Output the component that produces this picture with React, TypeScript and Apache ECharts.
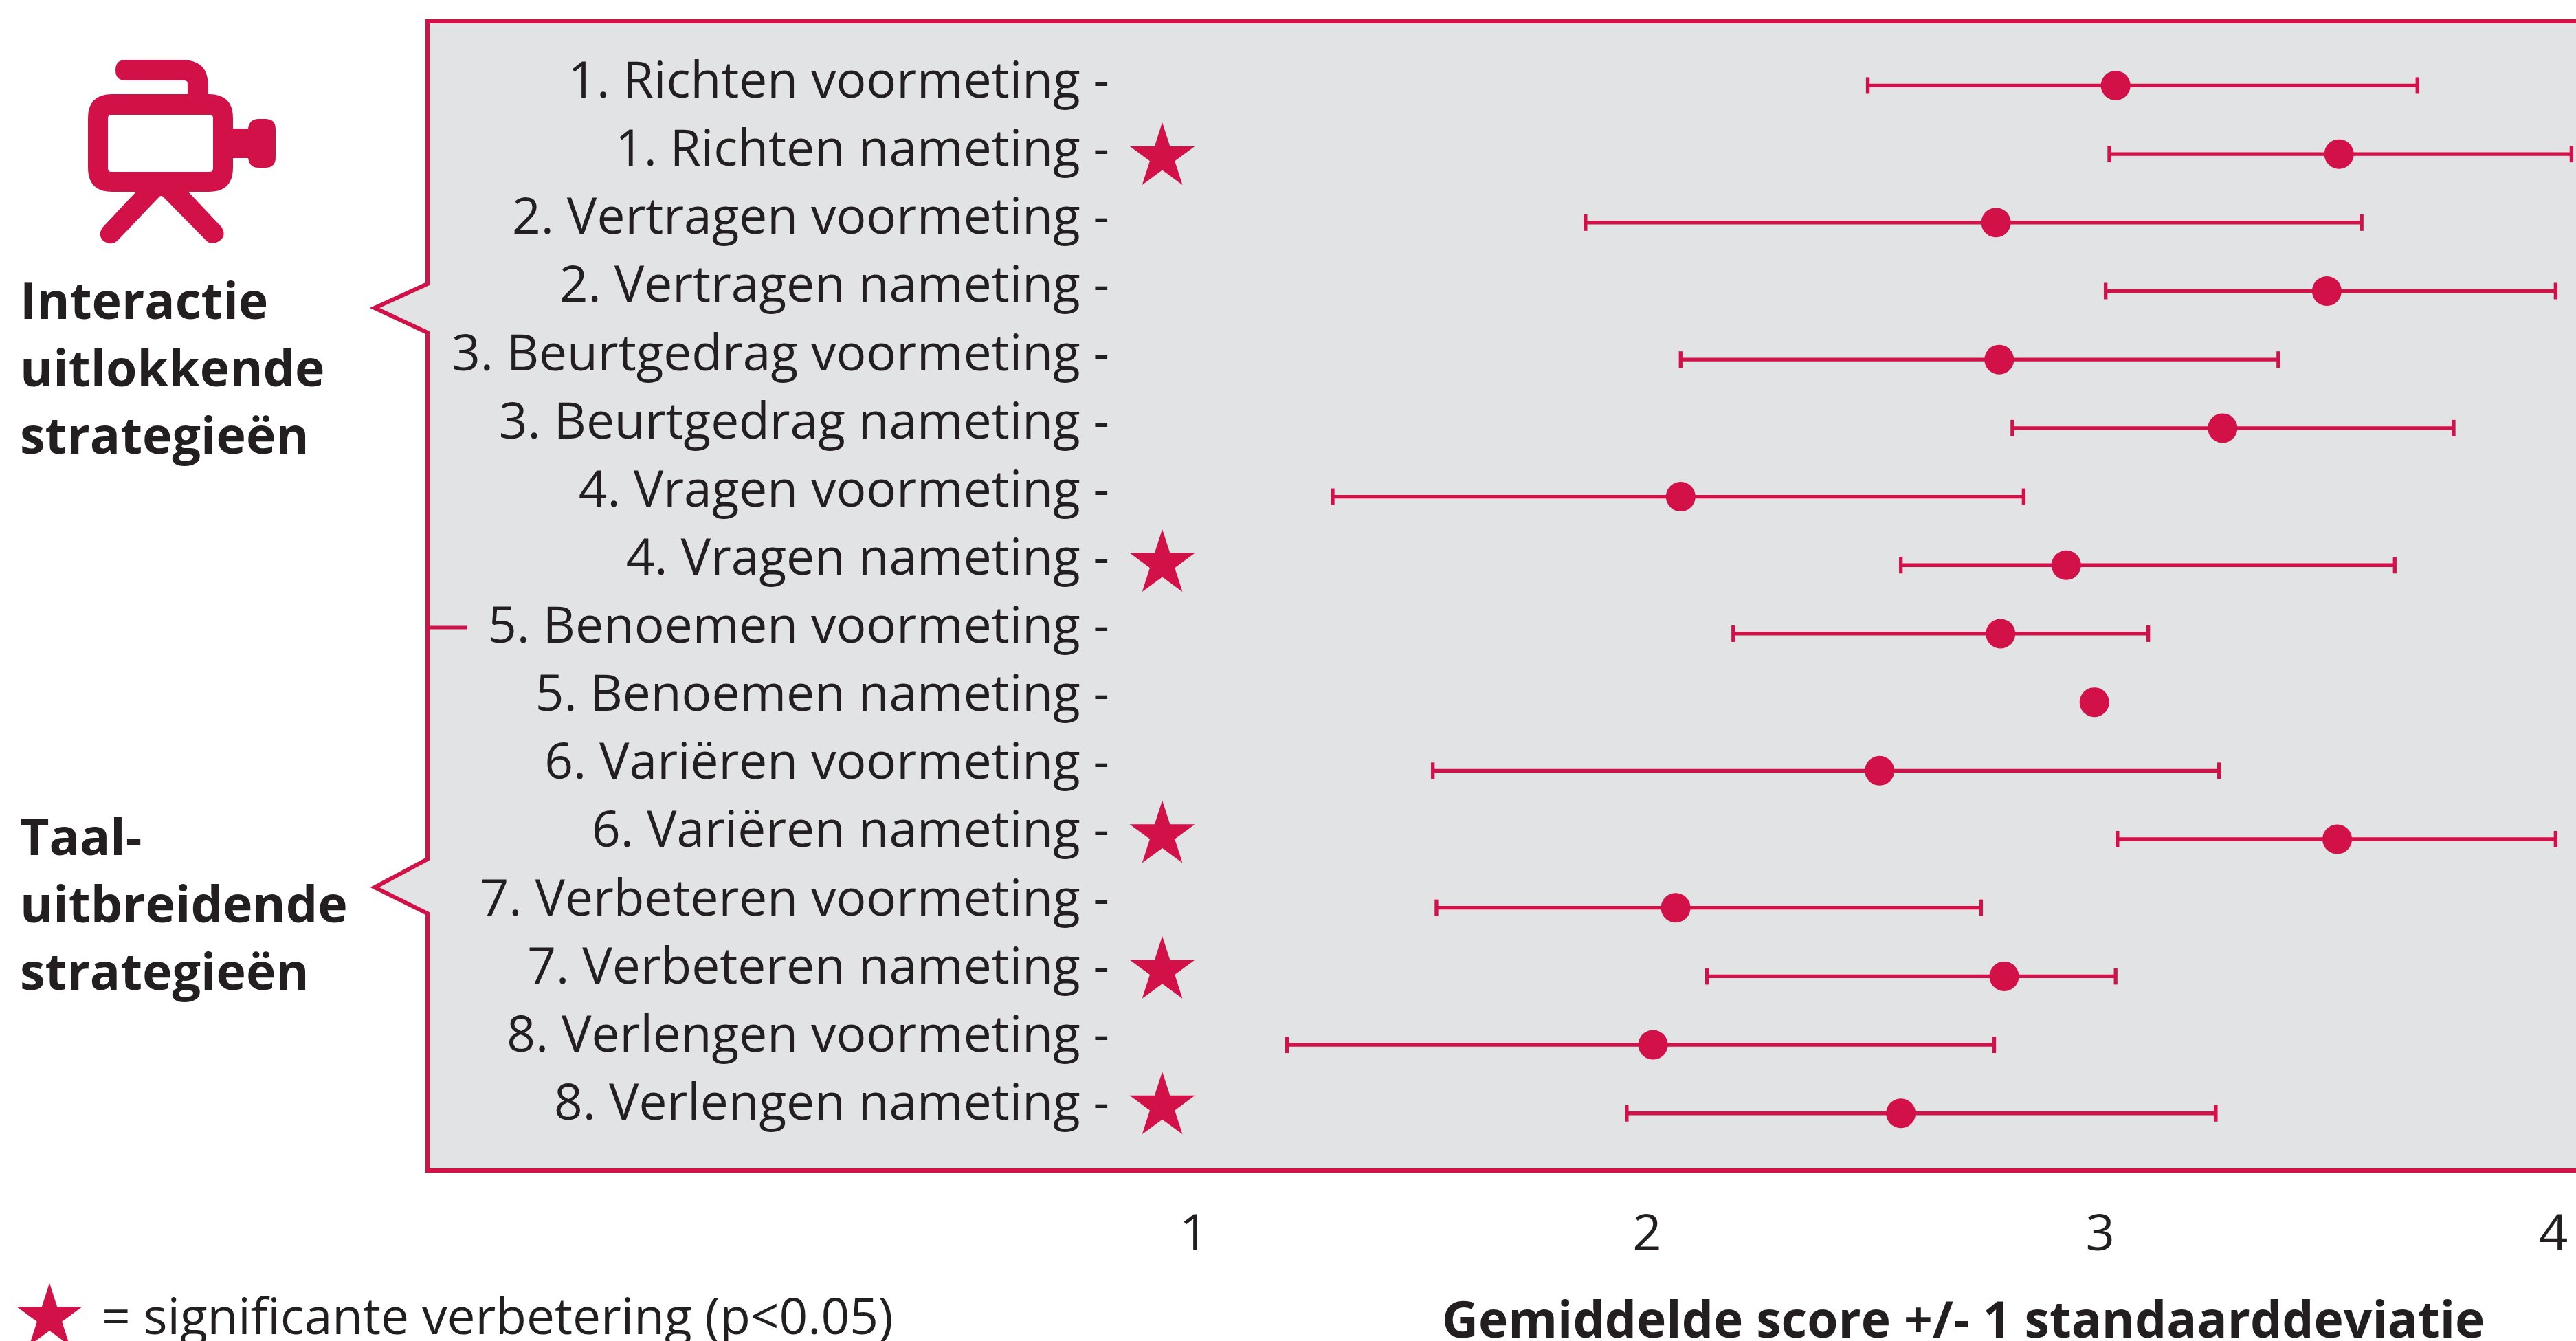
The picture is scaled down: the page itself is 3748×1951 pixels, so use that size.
import React, { useEffect, useRef } from "react";
import * as echarts from "echarts";

const categories = [
  "1. Richten voormeting -", "1. Richten nameting -",
  "2. Vertragen voormeting -", "2. Vertragen nameting -",
  "3. Beurtgedrag voormeting -", "3. Beurtgedrag nameting -",
  "4. Vragen voormeting -", "4. Vragen nameting -",
  "5. Benoemen voormeting -", "5. Benoemen nameting -",
  "6. Variëren voormeting -", "6. Variëren nameting -",
  "7. Verbeteren voormeting -", "7. Verbeteren nameting -",
  "8. Verlengen voormeting -", "8. Verlengen nameting -",
];
const lows = [2.487, 3.02, 1.864, 3.012, 2.074, 2.806, 1.306, 2.56, 2.19, null, 1.527, 3.038, 1.535, 2.132, 1.205, 1.955];
const means = [3.034, 3.527, 2.77, 3.5, 2.777, 3.27, 2.074, 2.925, 2.78, 2.987, 2.513, 3.523, 2.063, 2.788, 2.013, 2.56];
const highs = [3.7, 4.04, 3.577, 4.005, 3.393, 3.78, 2.831, 3.65, 3.106, null, 3.262, 4.005, 2.737, 3.034, 2.766, 3.255];
const significantRows = [1, 7, 11, 13, 15];
const xTicks = [1, 2, 3, 4];
const starAxisValue = 0.93;

const PINK = "#D31149";
const INK = "#231F20";
const GREY = "#E1E3E5";
const FONT = "'Open Sans'";
const STAR = "path://M50 0L61.2 34.5H97.6L68.2 55.9L79.4 90.5L50 69.1L20.6 90.5L31.8 55.9L2.4 34.5H38.8Z";

const CAMERA =
  "M183 87H265Q303 87 303 125V137H273V122Q273 117 268 117H183Q168 117 168 102Q168 87 183 87Z" +
  "M163 137H304Q339 137 339 172V187H361Q363 173 376 173H386Q401 173 401 188V229Q401 244 386 244H376Q363 244 361 230H339V244Q339 279 304 279H274" +
  "L322 330Q330 342 320 350Q307 359 298 348L237 286Q234 284 232 286L173 348Q163 359 151 351Q141 342 150 330L198 279H163Q128 279 128 244V172Q128 137 163 137Z" +
  "M162 167Q157 167 157 172V245Q157 250 162 250H305Q310 250 310 245V172Q310 167 305 167Z";

function starPoints(cx: number, cy: number, w: number, h: number) {
  const raw = [[50, 0], [61.2, 34.5], [97.6, 34.5], [68.2, 55.9], [79.4, 90.5], [50, 69.1], [20.6, 90.5], [31.8, 55.9], [2.4, 34.5], [38.8, 34.5]];
  return raw.map(([x, y]) => [cx + ((x - 50) / 95.2) * w, cy + ((y - 45.25) / 90.5) * h]);
}

export default function App() {
  const ref = useRef<HTMLDivElement>(null);
  useEffect(() => {
    document.body.style.margin = "0";
    document.body.style.overflow = "hidden";
    echarts.graphic.registerShape("camera", echarts.graphic.extendPath(CAMERA, {}) as any);
    const chart = echarts.init(ref.current!, null, { renderer: "svg" });

    const unit = 660;
    const x0 = 1078;
    const whiskers = categories
      .map((_, i) => [lows[i], i, highs[i]])
      .filter((d) => d[0] !== null);
    const bold = (text: string, x: number, y: number) => ({
      type: "text", x, y, z: 5,
      style: { text, fontFamily: FONT, fontWeight: 700, fontSize: 73.5, lineHeight: 98, fill: INK, textAlign: "left", textVerticalAlign: "middle" },
    });

    chart.setOption({
      animation: false,
      backgroundColor: "#fff",
      grid: [
        { left: x0, top: 74.6, width: unit * 4.05, height: 1595 },
        { left: 1628, top: 64, width: 50, height: 1586 },
        { left: x0, top: 75.5, width: unit * 4.05, height: 1578.5 },
      ],
      xAxis: [
        {
          type: "value", gridIndex: 0, min: 0, max: 4.05,
          axisLine: { show: false }, axisTick: { show: false }, splitLine: { show: false },
          axisLabel: { customValues: xTicks, margin: 84, fontFamily: FONT, fontSize: 74, color: INK, showMinLabel: true, showMaxLabel: true },
        },
        { type: "value", gridIndex: 1, show: false, min: 0, max: 1 },
        { type: "value", gridIndex: 2, show: false, min: 0, max: 4.05 },
      ],
      yAxis: [
        { type: "category", gridIndex: 0, inverse: true, data: categories, show: false },
        {
          type: "category", gridIndex: 1, inverse: true, data: categories,
          axisLine: { show: false }, axisTick: { show: false }, splitLine: { show: false },
          axisLabel: { interval: 0, margin: 14, fontFamily: FONT, fontSize: 73, color: INK, align: "right" },
        },
        { type: "category", gridIndex: 2, inverse: true, data: categories, show: false },
      ],
      graphic: [
        {
          type: "polygon", z: 0, silent: true,
          shape: { points: [[622, 31], [3760, 31], [3760, 1703], [622, 1703], [622, 1329], [545, 1291], [622, 1250], [622, 484], [545, 448], [622, 413]] },
          style: { fill: GREY, stroke: PINK, lineWidth: 6 },
        },
        { type: "line", z: 1, shape: { x1: 622, y1: 913, x2: 680, y2: 913 }, style: { stroke: PINK, lineWidth: 5 } },
        { type: "camera", x: 0, y: 0, z: 5, style: { fill: PINK } },
        bold("Interactie\nuitlokkende\nstrategieën", 29, 533),
        bold("Taal-\nuitbreidende\nstrategieën", 29, 1313),
        { type: "polygon", z: 5, shape: { points: starPoints(72, 1912, 95, 91) }, style: { fill: PINK } },
        {
          type: "text", x: 148, y: 1912, z: 5,
          style: { text: "= significante verbetering (p<0.05)", fontFamily: FONT, fontSize: 73, fill: INK, textAlign: "left", textVerticalAlign: "middle" },
        },
        {
          type: "text", x: 2098, y: 1917, z: 5,
          style: { text: "Gemiddelde score +/- 1 standaarddeviatie", fontFamily: FONT, fontWeight: 700, fontSize: 73.2, fill: INK, textAlign: "left", textVerticalAlign: "middle" },
        },
      ],
      series: [
        {
          type: "custom", xAxisIndex: 0, yAxisIndex: 0, data: whiskers, encode: { x: [0, 2], y: 1 }, z: 3, silent: true,
          renderItem: (_: any, api: any) => {
            const a = api.coord([api.value(0), api.value(1)]);
            const b = api.coord([api.value(2), api.value(1)]);
            const style = { stroke: PINK, lineWidth: 5.3, fill: "none" };
            const cap = 12;
            return {
              type: "group",
              children: [
                { type: "line", shape: { x1: a[0], y1: a[1], x2: b[0], y2: b[1] }, style },
                { type: "line", shape: { x1: a[0], y1: a[1] - cap, x2: a[0], y2: a[1] + cap }, style },
                { type: "line", shape: { x1: b[0], y1: b[1] - cap, x2: b[0], y2: b[1] + cap }, style },
              ],
            };
          },
        },
        {
          type: "scatter", xAxisIndex: 0, yAxisIndex: 0, z: 4, silent: true,
          data: means.map((m, i) => [m, i]),
          symbol: "circle", symbolSize: 43, itemStyle: { color: PINK, opacity: 1 },
        },
        {
          type: "scatter", xAxisIndex: 2, yAxisIndex: 2, z: 4, silent: true,
          data: significantRows.map((r) => [starAxisValue, r]),
          symbol: STAR, symbolSize: [95, 91], itemStyle: { color: PINK, opacity: 1 },
        },
      ],
    });
    return () => chart.dispose();
  }, []);
  return <div ref={ref} style={{ width: 3748, height: 1951 }} />;
}
